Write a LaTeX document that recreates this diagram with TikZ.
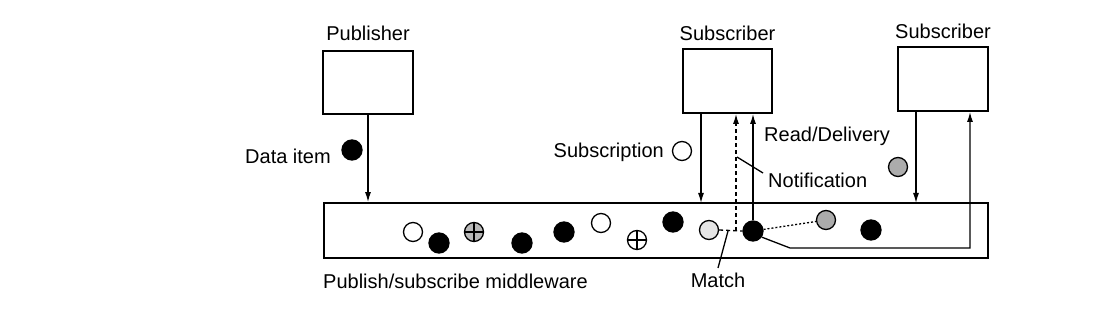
\documentclass[tikz,border=0pt]{standalone}
\usepackage{fontspec}
\setmainfont{Liberation Sans}
\usetikzlibrary{arrows.meta}
\begin{document}
\begin{tikzpicture}[x=1pt,y=-1pt,
  box/.style={draw, line width=1.8pt, inner sep=0, minimum width=90pt, minimum height=63pt},
  lbl/.style={font=\fontsize{20}{23}\selectfont, inner sep=0},
  conn/.style={line width=1.3pt},
  arr/.style={conn, -{Latex[length=10pt,width=6pt]}},
  dotc/.style={circle, draw, line width=1.3pt, inner sep=0, minimum size=19pt},
  blk/.style={dotc, fill=black, minimum size=20pt},
  opn/.style={dotc, fill=white},
  crs/.style={dotc, path picture={\draw[line width=1.1pt] (path picture bounding box.north) -- (path picture bounding box.south) (path picture bounding box.west) -- (path picture bounding box.east);}},
  dsh/.style={conn, dash pattern=on 4pt off 3pt},
  dtd/.style={conn, dash pattern=on 2pt off 2pt}
]
\useasboundingbox (0,0) rectangle (1114,320);

% boxes
\node[box] (pub) at (368,82.5) {};
\node[box, minimum width=89pt, minimum height=64pt] (sub1) at (727.5,81) {};
\node[box, minimum height=64pt] (sub2) at (943,79) {};
\node[draw, line width=1.8pt, inner sep=0, minimum width=664pt, minimum height=55pt] (band) at (656,230.5) {};

% labels
\node[lbl] (lpub) at (368,33) {Publisher};
\node[lbl] (lsub1) at (727.5,33) {Subscriber};
\node[lbl] (lsub2) at (943,31) {Subscriber};
\node[lbl, anchor=east] (ldata) at (331,156) {Data item};
\node[lbl, anchor=east] (lsubs) at (664,152) {Subscription};
\node[lbl, anchor=west] (lread) at (764,136) {Read/Delivery};
\node[lbl, anchor=west] (lnotif) at (768,180) {Notification};
\node[lbl] (lmatch) at (718,280) {Match};
\node[lbl, anchor=west] (lmw) at (323,281) {Publish/subscribe middleware};

% legend circles
\node[blk] (cdata) at (352,150) {};
\node[opn] (csubs) at (682,151) {};
\node[dotc, fill=gray!65] (cg2) at (898,167) {};

% circles in the band
\node[opn] (b1) at (413,232) {};
\node[blk] (b2) at (439,243) {};
\node[crs, fill=gray!55] (b3) at (474,232) {};
\node[blk] (b4) at (522,243) {};
\node[blk] (b5) at (564,232) {};
\node[opn] (b6) at (601,223) {};
\node[crs, fill=white] (b7) at (637,240) {};
\node[blk] (b8) at (673,222) {};
\node[dotc, fill=gray!20] (lg) at (709,230) {};
\node[blk] (bd) at (753,231) {};
\node[dotc, fill=gray!65] (g2) at (826,220) {};
\node[blk] (b9) at (871,230) {};

% coordinates
\coordinate (p1) at (701,203);
\coordinate (m) at (736,231);
\coordinate (mp) at (728,231);
\coordinate (mq) at (718,268);
\coordinate (p2) at (916,203);
\coordinate (c1) at (790,248);
\coordinate (c2) at (970,248);
\coordinate (n1) at (737,157);
\coordinate (n2) at (763,173);

% connectors
\draw[arr] (pub.south) -- (pub.south |- band.north);
\draw[arr] (sub1.south -| p1) -- (p1);
\draw[arr] (sub2.south -| p2) -- (p2);
\draw[dsh] (lg.east) -- (bd.west);
\draw[dsh, -{Latex[length=10pt,width=6pt]}] (m) -- (sub1.south -| m);
\draw[arr] (bd.north) -- (bd.north |- sub1.south);
\draw[dtd] (bd) -- (g2);
\draw[arr] (bd.-35) -- (c1) -- (c2) -- (sub2.south -| c2);
\draw[conn] (mp) -- (mq);
\draw[conn] (n1) -- (n2);
\end{tikzpicture}
\end{document}
